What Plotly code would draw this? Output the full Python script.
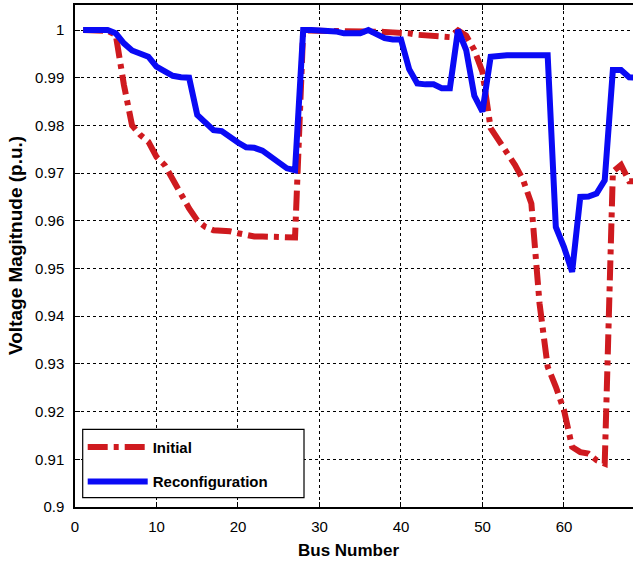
import plotly.graph_objects as go

bus = list(range(1, 70))

initial = [
    1.0, 1.0, 1.0, 0.9998, 0.9990, 0.9885, 0.9800, 0.9780, 0.9766, 0.9734,
    0.9717, 0.9685, 0.9657, 0.9626, 0.9601, 0.9587, 0.9580, 0.9580, 0.9578, 0.9574,
    0.9570, 0.9567, 0.9567, 0.9566, 0.9566, 0.9565, 0.9565, 0.9999, 0.9999, 0.9998,
    0.9998, 0.9997, 0.9997, 0.9997, 0.9997, 0.9998, 0.9997, 0.9996, 0.9995, 0.9995,
    0.9993, 0.9990, 0.9988, 0.9987, 0.9986, 0.9985, 0.9999, 0.9988, 0.9958, 0.9912,
    0.9794, 0.9769, 0.9745, 0.9717, 0.9685, 0.9636, 0.9427, 0.9294, 0.9252, 0.9203,
    0.9126, 0.9115, 0.9112, 0.9098, 0.9091, 0.9703, 0.9717, 0.9683, 0.9683,
]

reconfiguration = [
    1.0, 1.0, 1.0, 1.0, 0.9993, 0.9972, 0.9957, 0.9951, 0.9944, 0.9923,
    0.9913, 0.9904, 0.9901, 0.9900, 0.9822, 0.9804, 0.9790, 0.9788, 0.9775, 0.9764,
    0.9754, 0.9753, 0.9747, 0.9734, 0.9720, 0.9710, 0.9706, 1.0, 1.0, 1.0,
    0.9999, 0.9997, 0.9993, 0.9992, 0.9993, 1.0, 0.9993, 0.9983, 0.9980, 0.9980,
    0.9918, 0.9888, 0.9886, 0.9886, 0.9878, 0.9878, 1.0, 0.9958, 0.9862, 0.9829,
    0.9944, 0.9947, 0.9947, 0.9947, 0.9947, 0.9947, 0.9947, 0.9947, 0.9587, 0.9545,
    0.9493, 0.9650, 0.9651, 0.9657, 0.9685, 0.9916, 0.9916, 0.9901, 0.9900,
]

x_tickvals = [0, 10, 20, 30, 40, 50, 60]
x_ticktext = ["0", "10", "20", "30", "40", "50", "60"]
y_tickvals = [0.9, 0.91, 0.92, 0.93, 0.94, 0.95, 0.96, 0.97, 0.98, 0.99, 1.0]
y_ticktext = ["0.9", "0.91", "0.92", "0.93", "0.94", "0.95", "0.96", "0.97", "0.98", "0.99", "1"]

x_title = "Bus Number"
y_title = "Voltage Magitnude (p.u.)"

RED = "#CF1A1F"
BLUE = "#0A0AF5"

fig = go.Figure()
fig.add_trace(go.Scatter(
    x=bus, y=initial, mode="lines", name="Initial",
    line=dict(color=RED, width=6, dash="20px,6px,5px,6px"),
    legendgroup="a",
))
fig.add_trace(go.Scatter(
    x=bus, y=reconfiguration, mode="lines", name="Reconfiguration",
    line=dict(color=BLUE, width=6),
    legendgroup="b",
))

tickfont = dict(family="Liberation Sans Narrow, Arial Narrow, Liberation Sans, Arial", size=15, color="black")
xtitlefont = dict(family="Liberation Sans, Arial", size=17, color="black", weight="bold")
ytitlefont = dict(family="Liberation Sans, Arial", size=19, color="black", weight="bold")

# legend frame (paper coordinates)
fig.add_shape(type="rect", xref="paper", yref="paper",
              x0=0.0138, x1=0.4104, y0=0.0185, y1=0.1548,
              line=dict(color="black", width=1.2), fillcolor="white", layer="above")

fig.add_annotation(text=x_title, xref="paper", yref="paper",
                   x=(348 - 75) / 558, y=(507 - 550) / 502,
                   xanchor="center", yanchor="middle", showarrow=False, font=xtitlefont)
fig.add_annotation(text=y_title, xref="paper", yref="paper", textangle=-90,
                   x=(15.5 - 75) / 558, y=(507 - 245.5) / 502,
                   xanchor="center", yanchor="middle", showarrow=False, font=ytitlefont)

fig.update_layout(
    width=633, height=562,
    margin=dict(l=75, r=0, t=5, b=55),
    paper_bgcolor="white", plot_bgcolor="white",
    showlegend=True,
    legend=dict(
        x=0.0138, y=0.0185, xanchor="left", yanchor="bottom",
        bgcolor="rgba(0,0,0,0)", borderwidth=0,
        font=dict(family="Liberation Sans, Arial", size=15, color="black", weight="bold"),
        itemwidth=60, tracegroupgap=12,
    ),
    xaxis=dict(
        range=[0, 68.47], tickvals=x_tickvals, ticktext=x_ticktext,
        showgrid=True, gridcolor="black", gridwidth=1, griddash="3px,3px",
        showline=True, linecolor="black", linewidth=1.5, mirror="ticks",
        ticks="inside", ticklen=5, tickcolor="black",
        tickfont=tickfont, zeroline=False, ticklabelstandoff=5,
    ),
    yaxis=dict(
        range=[0.9, 1.00524], tickvals=y_tickvals, ticktext=y_ticktext,
        showgrid=True, gridcolor="black", gridwidth=1, griddash="3px,3px",
        showline=True, linecolor="black", linewidth=1.5, mirror=False,
        ticks="inside", ticklen=5, tickcolor="black",
        tickfont=tickfont, zeroline=False, ticklabelstandoff=6,
    ),
)

fig.write_html("out.html")
